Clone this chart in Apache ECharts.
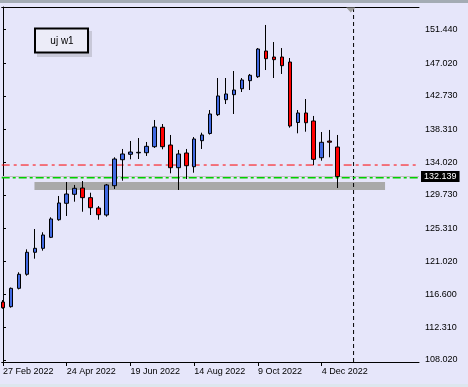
<!DOCTYPE html>
<html>
<head>
<meta charset="utf-8">
<script src="https://cdn.jsdelivr.net/npm/echarts@6/dist/echarts.min.js"></script>
<style>
html,body{margin:0;padding:0;background:#E6E6FA;}
#chart{width:468px;height:387px;}
</style>
</head>
<body>
<div id="chart"></div>
<script>
// Weekly bars (week start dates)
const weeks = [
  '27 Feb 2022','6 Mar 2022','13 Mar 2022','20 Mar 2022','27 Mar 2022','3 Apr 2022','10 Apr 2022','17 Apr 2022',
  '24 Apr 2022','1 May 2022','8 May 2022','15 May 2022','22 May 2022','29 May 2022','5 Jun 2022','12 Jun 2022',
  '19 Jun 2022','26 Jun 2022','3 Jul 2022','10 Jul 2022','17 Jul 2022','24 Jul 2022','31 Jul 2022','7 Aug 2022',
  '14 Aug 2022','21 Aug 2022','28 Aug 2022','4 Sep 2022','11 Sep 2022','18 Sep 2022','25 Sep 2022','2 Oct 2022',
  '9 Oct 2022','16 Oct 2022','23 Oct 2022','30 Oct 2022','6 Nov 2022','13 Nov 2022','20 Nov 2022','27 Nov 2022',
  '4 Dec 2022','11 Dec 2022','18 Dec 2022'
];
const opens  = [115.64,115.03,117.44,119.29,122.18,122.70,124.15,126.46,128.62,129.80,130.63,129.36,128.00,127.08,130.93,134.35,
                135.06,135.25,135.27,136.06,138.61,136.28,133.30,135.23,133.43,136.85,137.80,140.27,142.24,142.90,143.68,144.74,
                145.26,148.64,147.85,147.85,147.19,139.24,140.49,139.44,134.61,136.80,136.02];
const closes = [114.89,117.44,119.29,122.18,122.70,124.45,126.56,128.66,129.84,130.59,129.36,128.04,127.12,131.03,134.44,135.10,
                135.36,135.32,136.11,138.65,136.06,133.30,135.10,133.56,137.07,137.60,140.36,142.73,142.99,143.51,144.83,145.45,
                148.90,147.63,147.50,146.71,138.78,140.49,139.21,134.40,136.64,136.65,132.139];
const lows   = [114.77,114.90,117.30,119.10,121.34,122.39,124.05,126.33,126.95,128.83,127.51,127.08,126.46,126.86,130.50,131.59,
                134.40,134.44,134.84,135.90,135.72,132.56,130.37,131.81,132.64,135.76,137.65,140.10,141.67,140.36,143.25,143.51,
                145.10,146.14,145.09,145.62,138.56,137.82,138.03,133.65,134.22,134.67,130.63];
const highs  = [115.90,117.55,119.55,122.57,125.24,124.81,126.78,129.58,131.42,131.03,131.55,130.01,128.26,131.16,134.67,135.76,
                136.81,137.20,136.68,139.57,139.04,137.60,135.63,135.76,137.33,137.90,140.88,145.09,145.09,146.01,145.09,145.62,
                149.03,152.06,149.82,149.03,147.72,140.88,142.33,140.10,137.99,138.26,137.60];

const priceTicks = [108.02,112.31,116.60,121.02,125.31,129.73,134.02,138.31,142.73,147.02,151.44];
const dateTickIdx = [0,8,16,24,32,40];

const bidPrice = 132.139;
const redLevel = 133.65;
const greenLevel = 131.99;
const zoneTop = 131.42, zoneBottom = 130.37;
const zoneFrom = 3.95, zoneTo = 47.95;
const shiftIdx = 44;

const FONT = '"Liberation Sans", Arial, sans-serif';

const candleData = weeks.map((w, i) => [i, opens[i], closes[i], lows[i], highs[i]]);

const chart = echarts.init(document.getElementById('chart'), null, {renderer: 'canvas'});
const xMin = -0.1625, xMax = 52.2125, yMin = 107.757, yMax = 154.424;

function hLine(name, level, style, z, endLabel) {
  return {
    name: name, type: 'line', silent: true, z: z,
    symbol: 'none', showSymbol: false,
    data: [[xMin, level], [xMax, level]],
    lineStyle: style,
    itemStyle: {color: style.color},
    emphasis: {disabled: true},
    endLabel: endLabel || {show: false},
    clip: false
  };
}

chart.setOption({
  animation: false,
  backgroundColor: '#E6E6FA',
  grid: {left: 0, top: 7, width: 419, height: 355, containLabel: false},
  xAxis: [{
    type: 'value', min: xMin, max: xMax, position: 'bottom',
    splitLine: {show: false},
    axisLine: {show: true, lineStyle: {color: '#000', width: 1}},
    axisTick: {show: true, length: 4, inside: false, lineStyle: {color: '#000'}, customValues: dateTickIdx},
    axisLabel: {
      show: true, customValues: dateTickIdx, align: 'left', margin: 5,
      color: '#000', fontSize: 9, fontFamily: FONT,
      formatter: v => weeks[Math.round(v)] || ''
    }
  }, {
    type: 'value', min: xMin, max: xMax, position: 'top',
    splitLine: {show: false},
    axisLine: {show: true, lineStyle: {color: '#000', width: 1}},
    axisTick: {show: false}, axisLabel: {show: false}
  }],
  yAxis: {
    type: 'value', min: yMin, max: yMax, position: 'right',
    splitLine: {show: false},
    axisLine: {show: true, lineStyle: {color: '#000', width: 1}},
    axisTick: {show: true, length: 3, inside: false, lineStyle: {color: '#000'}, customValues: priceTicks},
    axisLabel: {
      show: true, customValues: priceTicks, margin: 6,
      color: '#000', fontSize: 9, fontFamily: FONT,
      formatter: v => v.toFixed(3)
    }
  },
  graphic: [
    {type: 'rect', left: 0, top: 0, shape: {width: 468, height: 3}, style: {fill: '#A4ACB4'}, silent: true},
    {type: 'rect', left: 0, top: 384, shape: {width: 468, height: 3}, style: {fill: '#DDE6EE'}, silent: true},
    {type: 'rect', x: 37, y: 31, shape: {width: 55, height: 26}, style: {fill: '#C8C8D8'}, silent: true, z: 10},
    {type: 'rect', x: 35, y: 28.5, shape: {width: 53, height: 24}, style: {fill: '#ECECF8', stroke: '#000', lineWidth: 2}, silent: true, z: 11},
    {type: 'text', x: 62, y: 41, style: {text: 'uj w1', fill: '#000', font: '10px ' + FONT, align: 'center', verticalAlign: 'middle', textShadowColor: '#B0B0C0', textShadowOffsetX: 1, textShadowOffsetY: 1}, silent: true, z: 12}
  ],
  series: [
    {
      type: 'candlestick',
      xAxisIndex: 0,
      data: candleData,
      encode: {x: 0, y: [1, 2, 3, 4]},
      barWidth: 4,
      z: 5,
      itemStyle: {
        color: '#4169E1', color0: '#FF0000',
        borderColor: '#000', borderColor0: '#000', borderWidth: 1
      },
      markArea: {
        silent: true, z: 1,
        itemStyle: {color: '#A9A9A9', opacity: 1},
        data: [[{xAxis: zoneFrom, yAxis: zoneTop}, {xAxis: zoneTo, yAxis: zoneBottom}]]
      },
      markPoint: {
        silent: true, animation: false,
        symbol: 'triangle', symbolRotate: 180, symbolSize: [9, 5], symbolOffset: [0, 3],
        itemStyle: {color: '#A0A0A0'},
        label: {show: false},
        data: [{coord: [shiftIdx - 0.35, yMax]}]
      }
    },
    hLine('bid', bidPrice, {color: '#C0C0C0', width: 1, type: 'solid'}, 2,
      {show: true, distance: 2, formatter: bidPrice.toFixed(3),
       color: '#fff', backgroundColor: '#000', padding: [1, 3, 1, 3], fontSize: 9, fontFamily: FONT}),
    hLine('red', redLevel, {color: '#FF0000', width: 1, type: [8, 4, 3, 4]}, 3),
    hLine('green', greenLevel, {color: '#00D000', width: 1.5, type: [8, 3, 3, 3]}, 4),
    {
      name: 'shift', type: 'line', silent: true, z: 3,
      symbol: 'none', showSymbol: false,
      data: [[shiftIdx, yMin], [shiftIdx, yMax]],
      lineStyle: {color: '#000', width: 1, type: [4, 3]},
      emphasis: {disabled: true}
    }
  ]
});
</script>
</body>
</html>
